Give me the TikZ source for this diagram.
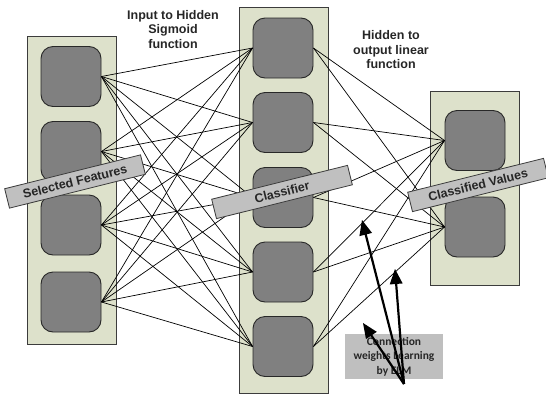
\documentclass[tikz,border=0pt]{standalone}
\usepackage{fontspec}
\setmainfont{Liberation Sans}[BoldFont={Liberation Sans Bold}]
\newfontfamily\calfont{Carlito}[BoldFont={Carlito Bold}]
\usetikzlibrary{calc}
\definecolor{panelfill}{RGB}{221,225,203}
\definecolor{panelline}{RGB}{60,60,60}
\definecolor{boxfill}{RGB}{128,128,128}
\definecolor{boxline}{RGB}{40,40,40}
\definecolor{labelfill}{RGB}{192,192,192}
\definecolor{notefill}{RGB}{191,191,191}
\tikzset{
  panel/.style={draw=panelline, fill=panelfill, line width=0.9pt},
  unitbox/.style={draw=boxline, fill=boxfill, line width=0.9pt, rounded corners=12pt,
    minimum width=60pt, minimum height=60pt, inner sep=0pt},
  wire/.style={black, line width=0.7pt},
  tag/.style={draw=panelline, fill=labelfill, line width=0.8pt, rotate=14,
    minimum width=140pt, minimum height=20pt, inner sep=0pt,
    font=\fontsize{12.5}{14}\selectfont\bfseries, text=black!85},
  headline/.style={align=center, font=\fontsize{12.5}{14.5}\selectfont\bfseries, text=black!85},
  note/.style={fill=notefill, minimum width=98pt, minimum height=45pt, inner sep=0pt,
    align=center, font=\calfont\fontsize{11.5}{14.5}\selectfont\bfseries, text=black!85},
  bigline/.style={black, line width=2.2pt, shorten >=9pt},
  bighead/.style={fill=black}
}
\newcommand{\myhead}[2]{% tip, tail
  \fill[bighead] (#1) -- ($(#1)!15pt!(#2)!6.5pt!90:(#1)$) -- ($(#1)!15pt!(#2)!6.5pt!-90:(#1)$) -- cycle;}
\begin{document}
\begin{tikzpicture}[x=1pt,y=-1pt]
\useasboundingbox (0,0) rectangle (546,394);
% panels
\node[panel, minimum width=89pt, minimum height=308pt, inner sep=0pt] (pl) at (71.5,190) {};
\node[panel, minimum width=89pt, minimum height=386pt, inner sep=0pt] (pm) at (283.5,200) {};
\node[panel, minimum width=89pt, minimum height=194pt, inner sep=0pt] (pr) at (474.5,188) {};
% left units
\node[unitbox] (l1) at (71,76.5) {};
\node[unitbox] (l2) at (71,151.5) {};
\node[unitbox] (l3) at (71,225) {};
\node[unitbox] (l4) at (71,302) {};
% middle units
\node[unitbox] (m1) at (283,48) {};
\node[unitbox] (m2) at (283,122.5) {};
\node[unitbox] (m3) at (283,197.5) {};
\node[unitbox] (m4) at (283,272) {};
\node[unitbox] (m5) at (283,346.5) {};
% right units
\node[unitbox] (r1) at (475,140.5) {};
\node[unitbox] (r2) at (475,227) {};
% connections
\foreach \i in {1,...,4}{
  \foreach \j in {1,...,5}{
    \draw[wire] (l\i.east) -- (m\j.west);
  }
}
\foreach \j in {1,...,5}{
  \foreach \k in {1,2}{
    \draw[wire] (m\j.east) -- (r\k.west);
  }
}
% titles
\node[headline] (t1) at (173,29.5) {Input to Hidden\\Sigmoid\\function};
\node[headline] (t2) at (391,50) {Hidden to\\output linear\\function};
% rotated tags
\node[tag] (s1) at (75,181.5) {Selected Features};
\node[tag] (s2) at (282,192) {Classifier};
\node[tag] (s3) at (478,185) {Classified Values};
% note
\node[note] (n) at (394,356.5) {Connection\\weights Learning\\by ELM};
\coordinate (a0) at (404,384);
\coordinate (a1) at (362,220);
\coordinate (a2) at (395,269);
\coordinate (a3) at (363,323);
\draw[bigline] (a0) -- (a1);
\draw[bigline] (a0) -- (a2);
\draw[bigline] (a0) -- (a3);
\myhead{a1}{a0}
\myhead{a2}{a0}
\myhead{a3}{a0}
\end{tikzpicture}
\end{document}
